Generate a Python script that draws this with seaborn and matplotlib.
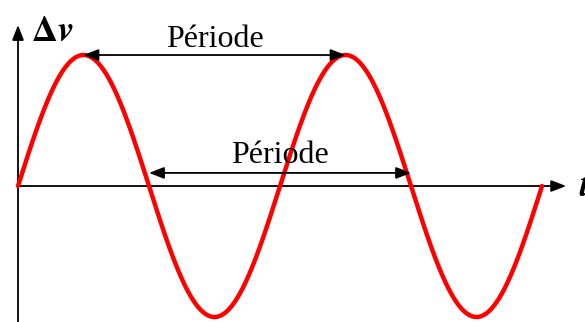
import numpy as np
import pandas as pd
import matplotlib
matplotlib.use("Agg")
import matplotlib.pyplot as plt
import seaborn as sns

# Signal parameters
amplitude = 1.0
period = 1.0
n_periods = 2
period_label = "Période"
# arrows: (start, end, height) in time / amplitude units
upper_arrow = [0.25, 1.25, 1.0]
lower_arrow = [0.5, 1.5, 0.1]

t = np.linspace(0, n_periods * period, 600)
df = pd.DataFrame({"t": t, "v": amplitude * np.sin(2 * np.pi * t / period)})

sns.set_style("white")
plt.rcParams["font.family"] = ["Liberation Serif", "DejaVu Serif"]
plt.rcParams["mathtext.fontset"] = "stix"
plt.rcParams["text.color"] = "black"

fig = plt.figure(figsize=(5.85, 3.22), dpi=100)
ax = fig.add_axes([0, 0, 1, 1])
ax.set_xlim(-0.0687, 2.164)
ax.set_ylim(-1.038, 1.42)
for s in ax.spines.values():
    s.set_visible(False)
ax.set_xticks([])
ax.set_yticks([])

sns.lineplot(data=df, x="t", y="v", color="#ff0000", linewidth=3.2, ax=ax,
             legend=False, zorder=3)
ax.set_xlabel("")
ax.set_ylabel("")

akw = dict(arrowstyle="-|>,head_length=0.9,head_width=0.35", color="black",
           lw=1.3, shrinkA=0, shrinkB=0)
# axes
ax.annotate("", xy=(0, 1.229), xytext=(0, -1.1), arrowprops=akw, zorder=2)
ax.annotate("", xy=(2.092, 0), xytext=(0, 0), arrowprops=akw, zorder=2)

ax.text(0.05, 1.175, r"$\mathbf{\Delta}\boldsymbol{v}$", fontsize=26,
        ha="left", va="center", color="black")
ax.text(2.143, -0.01, r"$\boldsymbol{t}$", fontsize=26, ha="left",
        va="center", color="black")

dkw = dict(arrowstyle="<|-|>,head_length=0.9,head_width=0.35", color="black",
           lw=1.3, shrinkA=0, shrinkB=0)
ax.annotate("", xy=(upper_arrow[1], upper_arrow[2]),
            xytext=(upper_arrow[0], upper_arrow[2]), arrowprops=dkw, zorder=4)
ax.text((upper_arrow[0] + upper_arrow[1]) / 2, upper_arrow[2] + 0.12,
        period_label, fontsize=23, ha="center", va="center", color="black")
ax.annotate("", xy=(lower_arrow[1], lower_arrow[2]),
            xytext=(lower_arrow[0], lower_arrow[2]), arrowprops=dkw, zorder=4)
ax.text((lower_arrow[0] + lower_arrow[1]) / 2, lower_arrow[2] + 0.13,
        period_label, fontsize=23, ha="center", va="center", color="black")

fig.savefig("out.png", dpi=100)
